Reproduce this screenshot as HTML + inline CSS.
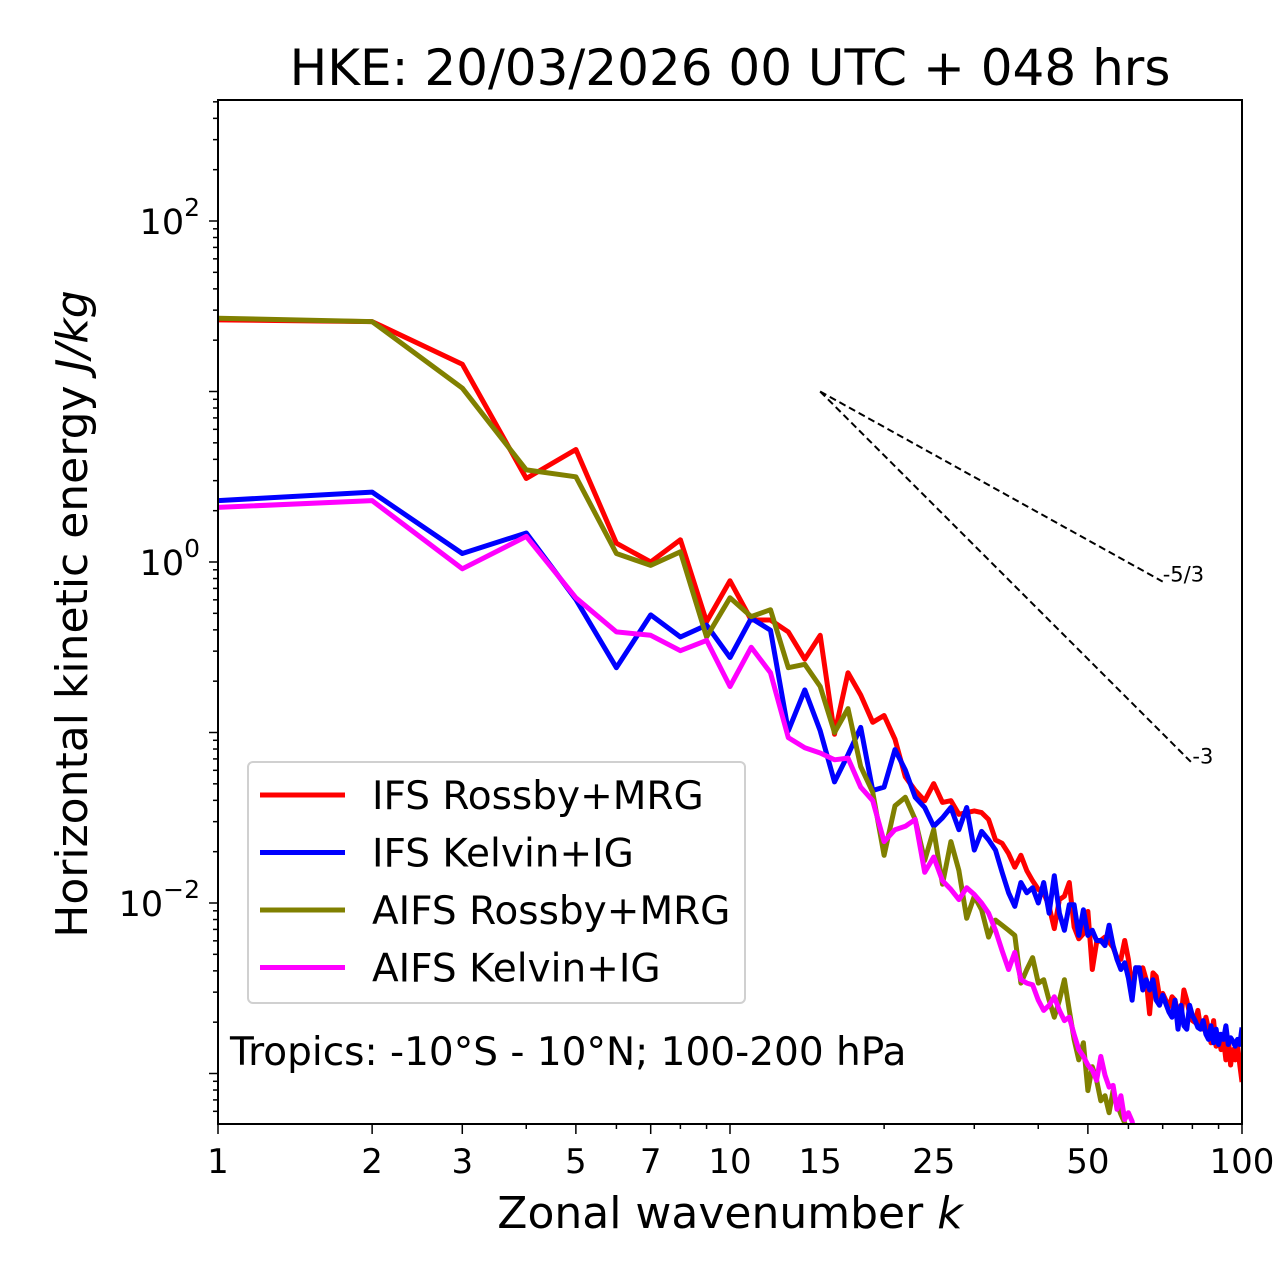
<!DOCTYPE html>
<html><head><meta charset="utf-8"><style>
body{margin:0;background:#fff;}
svg{display:block;font-family:"DejaVu Sans","Liberation Sans",sans-serif;}
</style></head><body>
<svg id="chart" width="1280" height="1288" viewBox="0 0 1280 1288" xmlns="http://www.w3.org/2000/svg">
<defs><clipPath id="plotclip"><rect x="218" y="100" width="1024" height="1024"/></clipPath></defs>
<rect x="0" y="0" width="1280" height="1288" fill="#fff"/>
<text x="730" y="85" font-size="50" text-anchor="middle">HKE: 20/03/2026 00 UTC + 048 hrs</text>
<text x="730" y="1228" font-size="44" text-anchor="middle">Zonal wavenumber <tspan font-style="italic">k</tspan></text>
<text transform="translate(87,614) rotate(-90)" font-size="44" text-anchor="middle">Horizontal kinetic energy <tspan font-style="italic">J/kg</tspan></text>
<g id="ticks"></g>
<g id="series" clip-path="url(#plotclip)"></g>
<rect x="218" y="100" width="1024" height="1024" fill="none" stroke="#000" stroke-width="2"/>
<g id="legend">
<rect x="248" y="762" width="497" height="241" rx="5" fill="#fff" fill-opacity="0.85" stroke="#d0d0d0" stroke-width="2"/>
</g>
<text x="230" y="1065" font-size="39">Tropics: -10°S - 10°N; 100-200 hPa</text>
</svg>
<script>
const wavenumbers = Array.from({length:100},(_, i)=>i+1);
const ifsRossbyLog10 = [1.42,1.41,1.16,0.49,0.66,0.11,0.00,0.13,-0.35,-0.11,-0.34,-0.34,-0.41,-0.57,-0.43,-1.01,-0.65,-0.78,-0.94,-0.90,-1.04,-1.26,-1.34,-1.40,-1.30,-1.41,-1.40,-1.48,-1.47,-1.46,-1.47,-1.51,-1.63,-1.65,-1.71,-1.79,-1.72,-1.81,-1.87,-1.92,-1.94,-2.02,-2.15,-1.98,-1.96,-1.88,-2.14,-2.21,-2.18,-2.05,-2.39,-2.23,-2.22,-2.20,-2.23,-2.26,-2.32,-2.33,-2.22,-2.33,-2.51,-2.38,-2.39,-2.38,-2.45,-2.65,-2.41,-2.43,-2.55,-2.53,-2.57,-2.61,-2.55,-2.57,-2.65,-2.67,-2.51,-2.57,-2.65,-2.69,-2.70,-2.63,-2.73,-2.74,-2.67,-2.74,-2.82,-2.69,-2.84,-2.77,-2.86,-2.80,-2.92,-2.79,-2.95,-2.86,-2.92,-2.83,-2.95,-3.05];
const ifsKelvinLog10 = [0.36,0.41,0.05,0.17,-0.22,-0.62,-0.31,-0.44,-0.37,-0.56,-0.33,-0.40,-0.99,-0.75,-0.99,-1.29,-1.13,-0.97,-1.34,-1.32,-1.10,-1.22,-1.38,-1.44,-1.55,-1.50,-1.44,-1.57,-1.44,-1.69,-1.58,-1.63,-1.69,-1.82,-1.94,-2.02,-1.88,-1.94,-1.91,-2.00,-1.88,-2.06,-1.84,-2.06,-2.16,-2.01,-2.01,-2.19,-2.04,-2.19,-2.16,-2.22,-2.22,-2.25,-2.13,-2.25,-2.33,-2.39,-2.35,-2.44,-2.57,-2.38,-2.38,-2.51,-2.45,-2.51,-2.45,-2.57,-2.60,-2.54,-2.59,-2.64,-2.67,-2.57,-2.74,-2.60,-2.72,-2.74,-2.60,-2.66,-2.69,-2.73,-2.74,-2.69,-2.77,-2.80,-2.72,-2.82,-2.74,-2.83,-2.77,-2.80,-2.72,-2.83,-2.79,-2.81,-2.84,-2.80,-2.83,-2.73];
const aifsRossbyLog10 = [1.43,1.41,1.02,0.54,0.50,0.05,-0.02,0.06,-0.44,-0.21,-0.32,-0.28,-0.62,-0.60,-0.73,-1.00,-0.86,-1.20,-1.35,-1.72,-1.43,-1.38,-1.51,-1.75,-1.57,-1.89,-1.64,-1.81,-2.09,-1.96,-2.04,-2.20,-2.10,-2.13,-2.16,-2.19,-2.47,-2.39,-2.32,-2.47,-2.45,-2.57,-2.67,-2.57,-2.45,-2.63,-2.80,-2.92,-2.82,-3.10,-2.96,-3.04,-3.16,-3.13,-3.23,-3.10,-3.18,-3.24,-3.29,-3.39,-3.45,-3.50];
const aifsKelvinLog10 = [0.32,0.36,-0.04,0.15,-0.21,-0.41,-0.43,-0.52,-0.46,-0.73,-0.50,-0.65,-1.03,-1.09,-1.12,-1.16,-1.15,-1.32,-1.40,-1.64,-1.57,-1.55,-1.51,-1.82,-1.73,-1.87,-1.92,-1.98,-1.91,-1.95,-2.00,-2.06,-2.16,-2.28,-2.39,-2.29,-2.45,-2.47,-2.48,-2.57,-2.63,-2.60,-2.55,-2.63,-2.69,-2.67,-2.77,-2.86,-2.90,-2.95,-2.98,-3.04,-2.90,-3.01,-3.08,-3.07,-3.21,-3.13,-3.27,-3.23,-3.28,-3.40];
const seriesNames = ["IFS Rossby+MRG","IFS Kelvin+IG","AIFS Rossby+MRG","AIFS Kelvin+IG"];
const seriesColors = ["#ff0000","#0000ff","#808000","#ff00ff"];
const xTickLabels = [1,2,3,5,7,10,15,25,50,100];
const yTickExponents = [2,0,-2];
const slopeStartK = 15, slopeStartE = 10;
const slopeValues = [-5/3,-3];
const slopeEndK = [70,80];
const slopeLabels = ["-5/3","-3"];

const NS="http://www.w3.org/2000/svg";
const X0=218, X1=1242, Y0=100, Y1=1124;
const xScale = k => X0 + (Math.log10(k)-0)/2*(X1-X0);
const yMaxLog = 2 + 121/170.5, yMinLog = -2 - 221/170.5;
const yScale = e => Y0 + (yMaxLog-Math.log10(e))/(yMaxLog-yMinLog)*(Y1-Y0);
function mk(tag, attrs, parent){const el=document.createElementNS(NS,tag);for(const k in attrs)el.setAttribute(k,attrs[k]);parent.appendChild(el);return el;}

const ticks=document.getElementById('ticks');
for(let d=0; d<2; d++){for(let m=1;m<=9;m++){const k=m*Math.pow(10,d);const x=xScale(k);
  const lab=xTickLabels.includes(k);
  const t=mk('line',{x1:x,x2:x,y1:Y1,y2:Y1+(lab||m===1?10:5),stroke:'#000','stroke-width':1.5},ticks);
  
  
}}
mk('line',{x1:xScale(100),x2:xScale(100),y1:Y1,y2:Y1+10,stroke:'#000','stroke-width':1.5},ticks);
xTickLabels.forEach(k=>{
  const t=mk('text',{x:xScale(k),y:Y1+49,'font-size':34,'text-anchor':'middle'},ticks);
  t.textContent=String(k);
  
  
});
for(let d=-4; d<3; d++){for(let m=1;m<=9;m++){const e=m*Math.pow(10,d);const y=yScale(e);
  if(y<Y0-0.5||y>Y1+0.5)continue;
  const t=mk('line',{x1:X0,x2:X0-(m===1?9:5),y1:y,y2:y,stroke:'#000','stroke-width':1.5},ticks);
  
  
}}
yTickExponents.forEach(p=>{
  const t=mk('text',{x:X0-18,y:yScale(Math.pow(10,p))+13,'font-size':35,'text-anchor':'end'},ticks);
  t.innerHTML='10<tspan dy="-18" font-size="25">'+(p<0?'\u2212'+(-p):p)+'</tspan>';
  
  
});

const sg=document.getElementById('series');
const allSeries=[ifsRossbyLog10,ifsKelvinLog10,aifsRossbyLog10,aifsKelvinLog10];
const seriesKeys=['ifs-rossby-line','ifs-kelvin-line','aifs-rossby-line','aifs-kelvin-line'];
allSeries.forEach((arr,i)=>{
  const pts=arr.map((v,j)=>xScale(wavenumbers[j]).toFixed(1)+','+yScale(Math.pow(10,v)).toFixed(1)).join(' ');
  const p=mk('polyline',{points:pts,fill:'none',stroke:seriesColors[i],'stroke-width':5,'stroke-linejoin':'round'},sg);
  
  
});
slopeValues.forEach((s,i)=>{
  const eEnd=slopeStartE*Math.pow(slopeEndK[i]/slopeStartK,s);
  const l=mk('line',{x1:xScale(slopeStartK),y1:yScale(slopeStartE),x2:xScale(slopeEndK[i]),y2:yScale(eEnd),stroke:'#000','stroke-width':2,'stroke-dasharray':'7,4'},sg);
  
  
  const t=mk('text',{x:xScale(slopeEndK[i]),y:yScale(eEnd)+0,'font-size':21},sg);
  t.textContent=slopeLabels[i];
  
  
});

const lg=document.getElementById('legend');
seriesNames.forEach((n,i)=>{
  const y=795+i*57.5;
  const l=mk('line',{x1:260,x2:345,y1:y,y2:y,stroke:seriesColors[i],'stroke-width':5},lg);
  
  
  const t=mk('text',{x:372,y:y+14,'font-size':39},lg);
  t.textContent=n;
  
  
});
</script>
</body></html>
